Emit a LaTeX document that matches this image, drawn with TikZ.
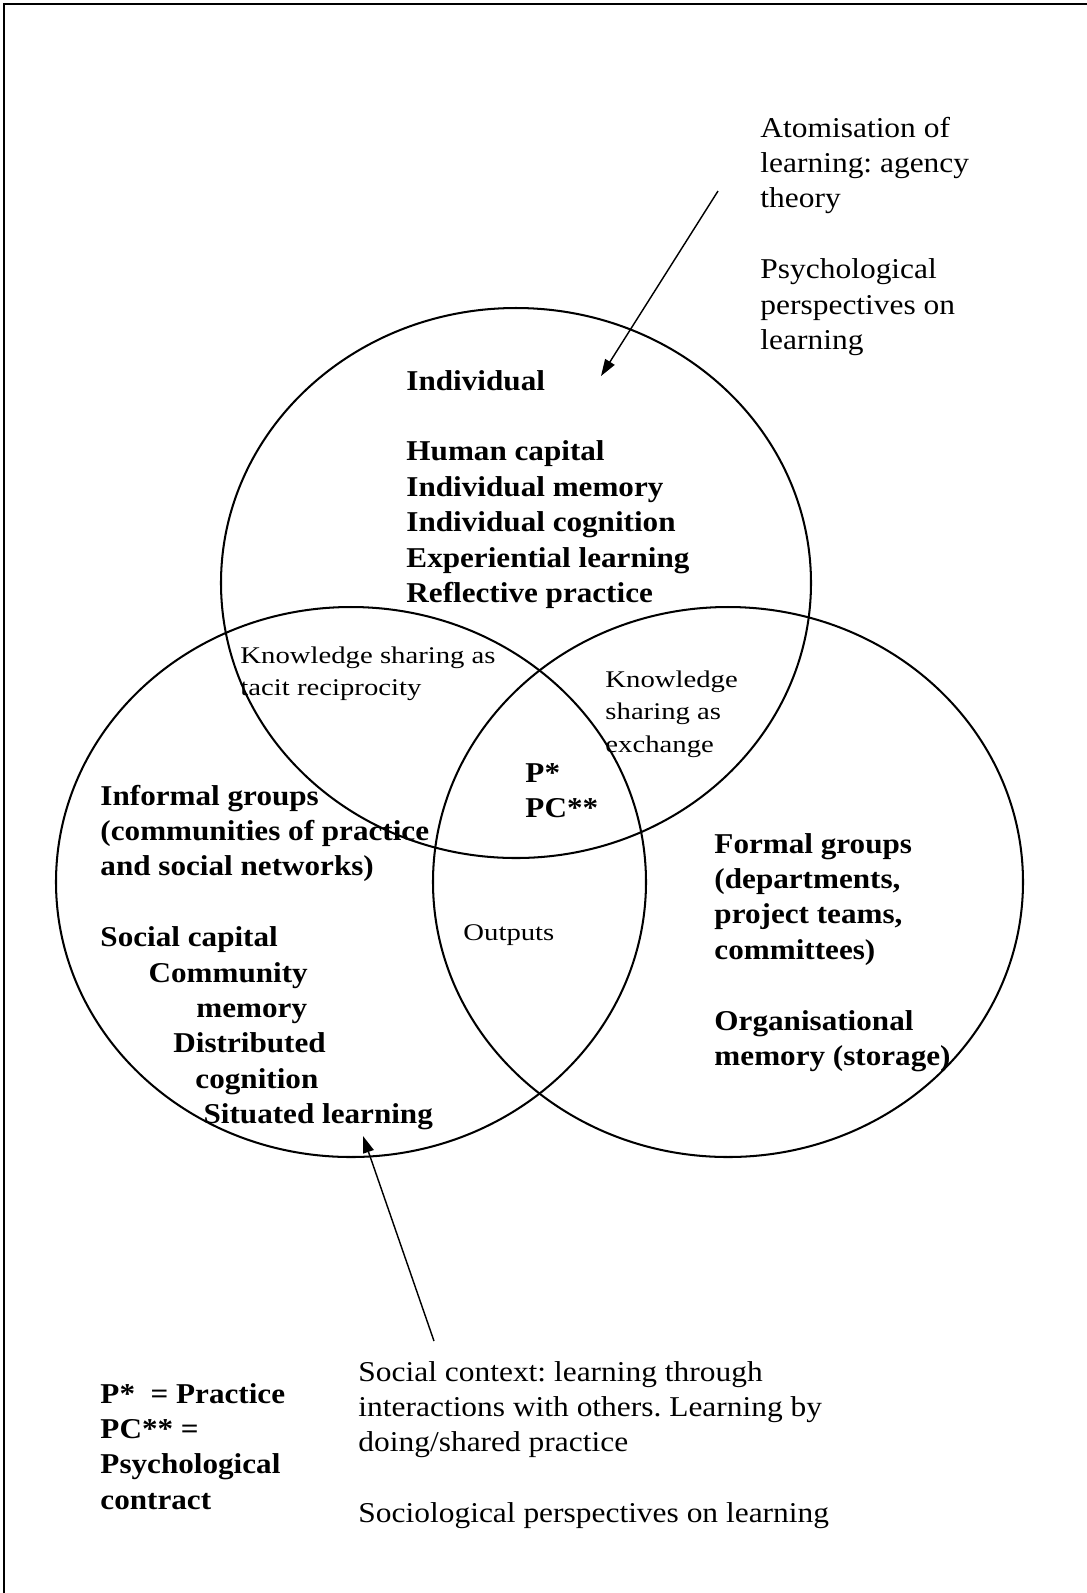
\documentclass[tikz,border=0pt]{standalone}
\usepackage{fontspec}
\setmainfont{Liberation Serif}[FakeStretch=1.095,BoldFeatures={FakeStretch=1.085}]
\newfontfamily\widefont{Liberation Serif}[FakeStretch=1.2]
\usetikzlibrary{arrows.meta}
\frenchspacing
% left-aligned stack of lines whose baseline is the first line's baseline
\newcommand\stackrows[1]{\vtop{\halign{##\hfil\cr#1\crcr}}}

\begin{document}
\begin{tikzpicture}[x=0.418pt,y=-0.418pt,
  set/.style={draw=black,line width=0.85pt},
  frameline/.style={draw=black,line width=0.9pt},
  txt/.style={anchor=base west,inner sep=0pt,font=\fontsize{12}{14.8}\selectfont},
  boldtxt/.style={anchor=base west,inner sep=0pt,font=\fontsize{12}{14.8}\selectfont\bfseries},
  smalltxt/.style={anchor=base west,inner sep=0pt,font=\widefont\fontsize{10}{13.6}\selectfont},
  pointer/.style={draw=black,line width=0.6pt,-{Triangle[length=7pt,width=4.6pt]}}]

\fill[white] (0,0) rectangle (1087,1593);
\useasboundingbox (0,0) rectangle (1087,1593);

% page frame (top and left edges)
\draw[frameline] (4,1593) -- (4,4) -- (1087,4);

% the three overlapping sets
\coordinate (cTop) at (516,583);
\coordinate (cLeft) at (351,882);
\coordinate (cRight) at (728,882);
\draw[set] (cTop) ellipse [x radius=295, y radius=275];
\draw[set] (cLeft) ellipse [x radius=295, y radius=275];
\draw[set] (cRight) ellipse [x radius=295, y radius=275];

% annotations outside the sets
\node[txt] (atom) at (760,137) {\stackrows{Atomisation of\cr learning: agency\cr theory\cr\cr Psychological\cr perspectives on\cr learning}};
\node[txt] (social) at (358,1381) {\stackrows{Social context: learning through\cr interactions with others. Learning by\cr doing/shared practice\cr\cr Sociological perspectives on learning}};
\node[boldtxt] (legend) at (100,1403) {\stackrows{P*~ = Practice\cr PC** =\cr Psychological\cr contract}};

% contents of the sets
\node[boldtxt] (indiv) at (406,390) {\stackrows{Individual\cr\cr Human capital\cr Individual memory\cr Individual cognition\cr Experiential learning\cr Reflective practice}};
\node[boldtxt] (informal) at (100,805) {\stackrows{Informal groups\cr (communities of practice\cr and social networks)\cr\cr Social capital\cr \hspace*{20.1pt}Community\cr \hspace*{40.1pt}memory\cr \hspace*{30.5pt}Distributed\cr \hspace*{39.7pt}cognition\cr \hspace*{43.1pt}Situated learning}};
\node[boldtxt] (formal) at (714,853) {\stackrows{Formal groups\cr (departments,\cr project teams,\cr committees)\cr\cr Organisational\cr memory (storage)}};
\node[boldtxt] (core) at (525,782) {\stackrows{P*\cr PC**}};

% overlap labels
\node[smalltxt] (tacit) at (240,663) {\stackrows{Knowledge sharing as\cr tacit reciprocity}};
\node[smalltxt] (exchange) at (605,687) {\stackrows{Knowledge\cr sharing as\cr exchange}};
\node[smalltxt] (outputs) at (463,940) {Outputs};

% pointers
\coordinate (psyTail) at (718,191);
\coordinate (psyTip) at (601,376);
\coordinate (socTail) at (434,1341);
\coordinate (socTip) at (363,1136);
\draw[pointer] (psyTail) -- (psyTip);
\draw[pointer] (socTail) -- (socTip);
\end{tikzpicture}
\end{document}
